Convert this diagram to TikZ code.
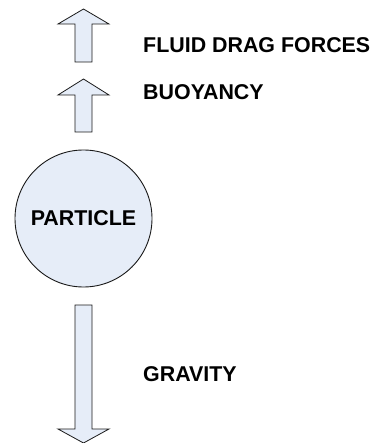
\documentclass[tikz,border=0pt]{standalone}
\usepackage{fontspec}
\setmainfont{Liberation Sans}
\usepackage{tikz}
\definecolor{pale}{HTML}{E6EDF8}
\definecolor{ink}{HTML}{1A1A1A}
\tikzset{
  blockarrow/.style={draw=ink,fill=pale,line width=.8pt,line join=miter},
  particle/.style={circle,draw=ink,fill=pale,line width=.9pt,minimum size=137pt,inner sep=0pt,font=\fontsize{21.4}{24}\selectfont\bfseries},
  forcelabel/.style={anchor=west,inner sep=0pt,font=\fontsize{21.4}{24}\selectfont\bfseries},
}
% x, tail, head base, tip
\newcommand{\blockarrow}[4]{%
  \draw[blockarrow] (#1-8.5,#2) -- (#1+8.5,#2) -- (#1+8.5,#3) -- (#1+25.5,#3)
    -- (#1,#4) -- (#1-25.5,#3) -- (#1-8.5,#3) -- cycle;}
\begin{document}
\begin{tikzpicture}[x=1pt,y=-1pt]
  \useasboundingbox (0,0) rectangle (376,443);
  \node[particle] (part) at (83.5,218.5) {PARTICLE};
  % forces
  \blockarrow{83.5}{62}{24}{9}
  \blockarrow{83.5}{132}{95}{79}
  \blockarrow{83.5}{305}{429}{443}
  \node[forcelabel] (drag) at (143,45) {FLUID DRAG FORCES};
  \node[forcelabel] (buoy) at (143,92.5) {BUOYANCY};
  \node[forcelabel] (grav) at (143,374) {GRAVITY};
\end{tikzpicture}
\end{document}
